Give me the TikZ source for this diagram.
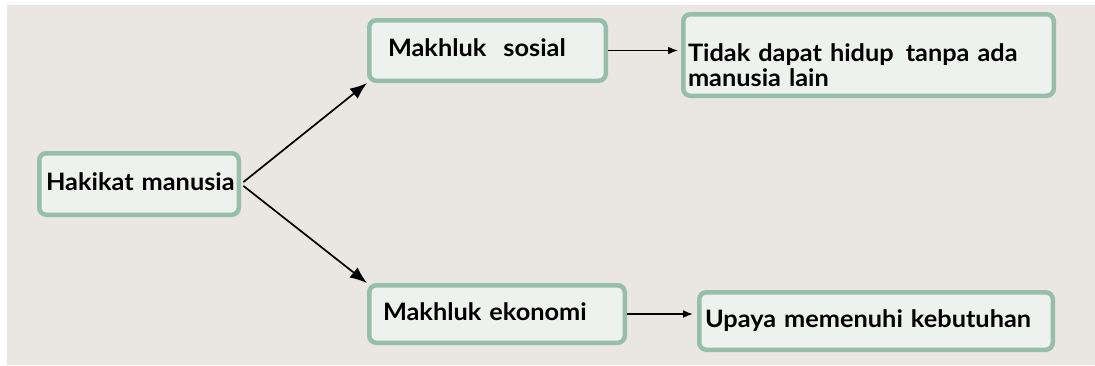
\documentclass[tikz,border=0pt]{standalone}
\usepackage{fontspec}
\setmainfont{Lato}[FakeStretch=1.055]
\usetikzlibrary{arrows.meta}
\definecolor{bgbeige}{RGB}{234,231,226}
\definecolor{boxgreen}{RGB}{150,190,170}
\definecolor{boxfill}{RGB}{238,242,239}
\tikzstyle{block} = [rectangle, draw=boxgreen, line width=4.5pt, fill=boxfill, rounded corners=7pt, align=left, font=\bfseries\fontsize{24}{25}\selectfont, inner ysep=0pt, text depth=5pt]
\tikzstyle{line} = [draw, line width=1.7pt, -{Latex[length=10pt,width=8pt]}]
\tikzstyle{bigline} = [draw, line width=1.7pt, -{Latex[length=17pt,width=13pt]}]

\begin{document}
\begin{tikzpicture}[x=1pt,y=-1pt]
\fill [white] (0,0) rectangle (1095,365);
\fill [bgbeige] (7,5) rectangle (1095,365);
\node [block, minimum height=61.5pt, inner xsep=6.75pt, text width=186pt] (hakikat) at (139,184) {\mbox{Hakikat manusia}};
\node [block, minimum height=60.5pt, inner xsep=18.75pt, text width=199pt] (sosial) at (487.5,50.5) {\mbox{Makhluk\hspace{17pt}sosial}};
\node [block, minimum height=81.5pt, inner xsep=4.75pt, text width=361pt] (tidak) at (868.5,55) {\mbox{Tidak dapat hidup\hspace{12pt}tanpa ada}\\manusia lain};
\node [block, minimum height=57.5pt, inner xsep=13.75pt, text width=228pt] (ekonomi) at (497,314) {\mbox{Makhluk ekonomi}};
\node [block, minimum height=57.5pt, inner xsep=5.75pt, text width=342pt] (upaya) at (876,321) {\mbox{Upaya memenuhi kebutuhan}};
\path [bigline, shorten <=3pt] (hakikat.east) -- (sosial.south west);
\path [bigline, shorten <=3pt] (hakikat.east) -- (ekonomi.north west);
\path [line, shorten >=3pt] (sosial.east) -- (sosial.east -| tidak.west);
\path [line, shorten >=4pt] (ekonomi.east) -- (ekonomi.east -| upaya.west);
\end{tikzpicture}
\end{document}
